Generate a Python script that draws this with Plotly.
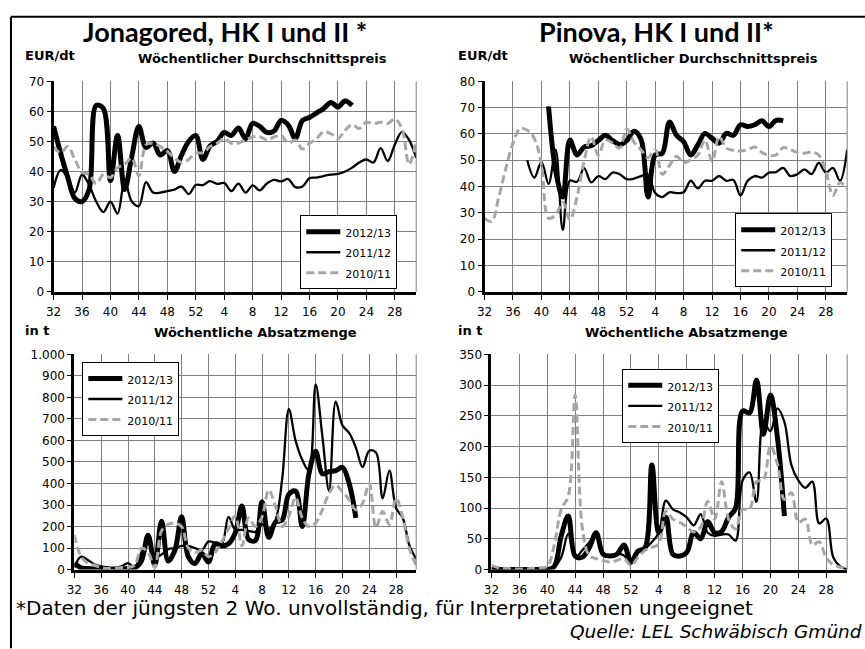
import plotly.graph_objects as go

W, H = 865, 649

weeks = ["32", "33", "34", "35", "36", "37", "38", "39", "40", "41", "42", "43", "44", "45",
         "46", "47", "48", "49", "50", "51", "52", "1", "2", "3", "4", "5", "6", "7", "8",
         "9", "10", "11", "12", "13", "14", "15", "16", "17", "18", "19", "20", "21", "22",
         "23", "24", "25", "26", "27", "28", "29", "30", "31"]

series_names = ["2012/13", "2011/12", "2010/11"]

# Jonagored, price EUR/dt
jona_price_1213 = [55, 46, 38, 31, 30, 34, 62, 61, 37, 52, 34, 45, 55, 48, 49.5, 45.5, 47, 40, 45.5, 50, 52,
                   44, 48.5, 50, 53, 52, 54.5, 51, 56, 55, 53, 53.5, 57, 55.5, 51, 57, 58, 59.5, 61, 63, 61.5,
                   63.5, 62, None, None, None, None, None, None, None, None, None]
jona_price_1112 = [34.5, 40.5, 38, 33, 39, 35.5, 30, 26.5, 30, 26, 37, 30, 28.5, 36.5, 33, 33, 33.5, 34, 35,
                   32.5, 35.5, 35.5, 36.8, 35.9, 36.2, 33.5, 36, 33, 35.4, 33.7, 36, 37.2, 36.7, 37.5, 34.8,
                   35, 37.8, 38, 38.5, 39, 39.2, 40, 41.3, 43, 44, 43, 47.8, 43.5, 49, 53.2, 50.5, 44.5]
jona_price_1011 = [48.3, 46.2, 48.3, 44, 39.7, 39, 36, 39, 38, 41.3, 42.4, 44.5, 38.6, 48.9, 49.4, 48.3, 46.7,
                   44.5, 43, 44, 46.2, 46.2, 48.3, 49.4, 51, 49.4, 49.5, 50.5, 51.5, 51.6, 50.5, 51.5, 52,
                   49.4, 50.5, 47.5, 49.4, 51, 53.2, 52.6, 51, 53.7, 55.6, 54.3, 56.4, 55.9, 56.4, 56, 57.5,
                   54.3, 42.4, 50]

# Pinova, price EUR/dt
pin_price_1213 = [None, None, None, None, None, None, None, None, None, 70.5, 46, 36, 57.7, 52, 55, 55.5,
                  57.5, 59.5, 57.5, 56, 57.5, 61, 58, 36, 52, 52.7, 64.5, 59.5, 57, 52, 55.8, 60.2, 58.3,
                  56.5, 60.2, 59.5, 63.5, 62.8, 63.5, 65, 62.8, 65.2, 65, None, None, None, None, None,
                  None, None, None, None]
pin_price_1112 = [None, None, None, None, None, None, 50, 43.4, 49.4, 41, 54, 23.5, 42.2, 41.8, 47, 41.6,
                  44, 42.8, 45.3, 44.7, 42.8, 43, 44, 44.5, 37.5, 36, 37.8, 37.5, 37.8, 42.2, 39.3, 42.2,
                  42.2, 44, 42.2, 42.5, 36.6, 42.2, 44, 43.4, 45.3, 45.5, 47.1, 44, 44.7, 46.5, 44.7, 49,
                  45.3, 47.1, 42.2, 54]
pin_price_1011 = [27.9, 26.7, 36, 47, 56.5, 62, 61.4, 58.3, 48.4, 28, 29.2, 34, 27.3, 36, 49.6, 59, 52,
                  57.7, 56.5, 54.6, 62, 57, 54, 51, 54, 44.7, 48, 51.5, 49, 50.2, 52, 57.7, 49.6, 59,
                  54.6, 53.8, 53.5, 54, 55, 53, 51.8, 52, 54.8, 54, 53, 52.7, 53.1, 52, 46, 36.6, 41.5, 39]

# Jonagored, quantity t
jona_qty_1213 = [30, 8, 5, 3, 2, 2, 2, 3, 5, 8, 40, 160, 20, 225, 40, 90, 245, 60, 28, 75, 35, 120, 110,
                 120, 170, 295, 140, 135, 315, 150, 220, 230, 350, 365, 200, 445, 550, 445, 455, 460, 475,
                 400, 240, None, None, None, None, None, None, None, None, None]
jona_qty_1112 = [10, 60, 45, 25, 15, 10, 8, 15, 30, 10, 80, 130, 55, 70, 95, 100, 110, 110, 100, 90, 130,
                 125, 120, 245, 185, 185, 180, 175, 210, 190, 230, 420, 745, 600, 510, 460, 860, 620, 365,
                 780, 670, 635, 567, 476, 552, 544, 331, 460, 286, 240, 111, 50]
jona_qty_1011 = [160, 60, 30, 20, 10, 5, 5, 10, 10, 20, 100, 80, 10, 180, 210, 215, 200, 100, 80, 90, 60,
                 80, 130, 190, 250, 110, 240, 200, 245, 370, 295, 200, 248, 335, 240, 200, 217, 278, 354,
                 392, 362, 324, 278, 308, 400, 195, 270, 210, 331, 240, 96, 20]

# Pinova, quantity t
pin_qty_1213 = [0, 0, 0, 0, 0, 0, 0, 0, 0, 5, 55, 87, 22, 20, 35, 60, 25, 22, 25, 40, 12, 30, 35, 170, 60,
                85, 25, 22, 28, 60, 50, 78, 60, 62, 85, 100, 258, 255, 308, 220, 284, 215, 87, None, None,
                None, None, None, None, None, None, None]
pin_qty_1112 = [0, 0, 0, 0, 0, 0, 0, 0, 0, 4, 20, 58, 20, 31, 44, 55, 26, 23, 26, 23, 10, 28, 34, 45, 60,
                112, 98, 93, 85, 72, 90, 60, 55, 57, 57, 47, 145, 158, 110, 240, 225, 262, 240, 170, 145,
                133, 143, 75, 83, 20, 5, 0]
pin_qty_1011 = [7, 3, 2, 1, 1, 1, 2, 3, 5, 40, 98, 119, 284, 70, 23, 18, 15, 12, 15, 18, 7, 20, 31, 36, 42,
                95, 82, 77, 69, 61, 69, 111, 82, 143, 82, 66, 98, 98, 143, 146, 201, 172, 114, 125, 77, 82,
                40, 45, 19, 8, 4, 0]


def px(x):
    return x / W


def py(y):
    return 1 - y / H


styles = [
    dict(color="black", width=5),
    dict(color="black", width=2.3),
    dict(color="#a6a6a6", width=3, dash="8px,4px"),
]

panels = [
    dict(sfx="", xd=(46, 412), yd=(76, 291), yr=(0, 70), dt=10,
         data=[jona_price_1213, jona_price_1112, jona_price_1011], leg=(295, 213)),
    dict(sfx="2", xd=(481, 847), yd=(76, 291), yr=(0, 80), dt=10,
         data=[pin_price_1213, pin_price_1112, pin_price_1011], leg=(734, 211)),
    dict(sfx="3", xd=(67, 412), yd=(355, 575), yr=(0, 1000), dt=100,
         data=[jona_qty_1213, jona_qty_1112, jona_qty_1011], leg=(75, 363)),
    dict(sfx="4", xd=(488, 847), yd=(355, 575), yr=(0, 350), dt=50,
         data=[pin_qty_1213, pin_qty_1112, pin_qty_1011], leg=(620, 370)),
]

fig = go.Figure()
layout = dict(
    width=W, height=H, margin=dict(l=0, r=0, t=0, b=0),
    paper_bgcolor="white", plot_bgcolor="white",
    separators=",.", showlegend=True,
    font=dict(family="DejaVu Sans", color="black"),
)
shapes = []
tick_font = dict(family="DejaVu Sans", size=12, color="black")

for p in panels:
    s = p["sfx"]
    legname = "legend" + s
    for name, vals, st in zip(series_names, p["data"], styles):
        fig.add_trace(go.Scatter(
            x=weeks, y=vals, mode="lines", name='<span style="font-size:11px">%s</span>' % name,
            line=dict(shape="spline", smoothing=1, **st),
            xaxis="x" + s, yaxis="y" + s, legend=legname, connectgaps=False,
            hoverinfo="skip",
        ))
    layout["xaxis" + s] = dict(
        type="category", categoryorder="array", categoryarray=weeks,
        range=[0, len(weeks) - 1], tickmode="array", tickvals=weeks[::4],
        domain=[px(p["xd"][0]), px(p["xd"][1])], anchor="y" + s,
        showline=True, linewidth=3, linecolor="black",
        ticks="outside", ticklen=5, tickwidth=1, tickcolor="black",
        showgrid=True, gridcolor="#7f7f7f", gridwidth=1,
        tickfont=tick_font, ticklabelstandoff=2, fixedrange=True,
    )
    layout["yaxis" + s] = dict(
        range=list(p["yr"]), dtick=p["dt"], tick0=0,
        domain=[py(p["yd"][1]), py(p["yd"][0])], anchor="x" + s,
        showline=True, linewidth=3, linecolor="black",
        ticks="outside", ticklen=4, tickwidth=1, tickcolor="black",
        showgrid=True, gridcolor="#7f7f7f", gridwidth=1, zeroline=False,
        tickfont=tick_font, separatethousands=True, fixedrange=True,
    )
    layout[legname] = dict(
        x=px(p["leg"][0]), y=py(p["leg"][1]), xanchor="left", yanchor="top",
        xref="paper", yref="paper",
        bgcolor="white", bordercolor="black", borderwidth=1,
        font=dict(family="DejaVu Sans", size=13.5, color="black"),
        itemwidth=34, traceorder="normal", tracegroupgap=0,
    )
    ax = "x" + s
    ay = "y" + s
    shapes.append(dict(type="line", xref=ax + " domain", yref=ay + " domain",
                       x0=1, x1=1, y0=0, y1=1, line=dict(color="#7f7f7f", width=1)))

# outer frame (top and left)
shapes.append(dict(type="line", xref="paper", yref="paper", x0=px(3), x1=1.01, y0=py(10), y1=py(10),
                   line=dict(color="black", width=2)))
shapes.append(dict(type="line", xref="paper", yref="paper", x0=px(3), x1=px(3), y0=py(10), y1=-0.01,
                   line=dict(color="black", width=2)))

title_font = dict(family="Lato", size=27, color="black")
sub_font = dict(family="DejaVu Sans", size=13, color="black")
foot_font = dict(family="DejaVu Sans", size=20, color="black")
annotations = [
    dict(text="<b>Jonagored, HK I und II *</b>", x=px(74), y=py(25), xanchor="left", font=title_font),
    dict(text="<b>Pinova, HK I und II*</b>", x=px(534), y=py(25), xanchor="left", font=title_font),
    dict(text="<b>EUR/dt</b>", x=px(15), y=py(50), xanchor="left", font=sub_font),
    dict(text="<b>Wöchentlicher Durchschnittspreis</b>", x=px(257), y=py(53), font=sub_font),
    dict(text="<b>EUR/dt</b>", x=px(452), y=py(50), xanchor="left", font=sub_font),
    dict(text="<b>Wöchentlicher Durchschnittspreis</b>", x=px(692), y=py(53), font=sub_font),
    dict(text="<b>in t</b>", x=px(15), y=py(331), xanchor="left", font=sub_font),
    dict(text="<b>Wöchentliche Absatzmenge</b>", x=px(250), y=py(333), font=sub_font),
    dict(text="<b>in t</b>", x=px(452), y=py(331), xanchor="left", font=sub_font),
    dict(text="<b>Wöchentliche Absatzmenge</b>", x=px(685), y=py(333), font=sub_font),
    dict(text="*Daten der jüngsten 2 Wo. unvollständig, für Interpretationen ungeeignet",
         x=px(6), y=py(614), xanchor="left", font=foot_font),
    dict(text="<i>Quelle: LEL Schwäbisch Gmünd</i>", x=px(864), y=py(638), xanchor="right",
         font=dict(family="DejaVu Sans", size=18.5, color="black")),
]
for a in annotations:
    a.setdefault("xanchor", "center")
    a["yanchor"] = "middle"
    a["xref"] = "paper"
    a["yref"] = "paper"
    a["showarrow"] = False

layout["shapes"] = shapes
layout["annotations"] = annotations
fig.update_layout(**layout)
fig.write_html("out.html", config={"displayModeBar": False},
               post_script="document.body.style.margin='0px';")
